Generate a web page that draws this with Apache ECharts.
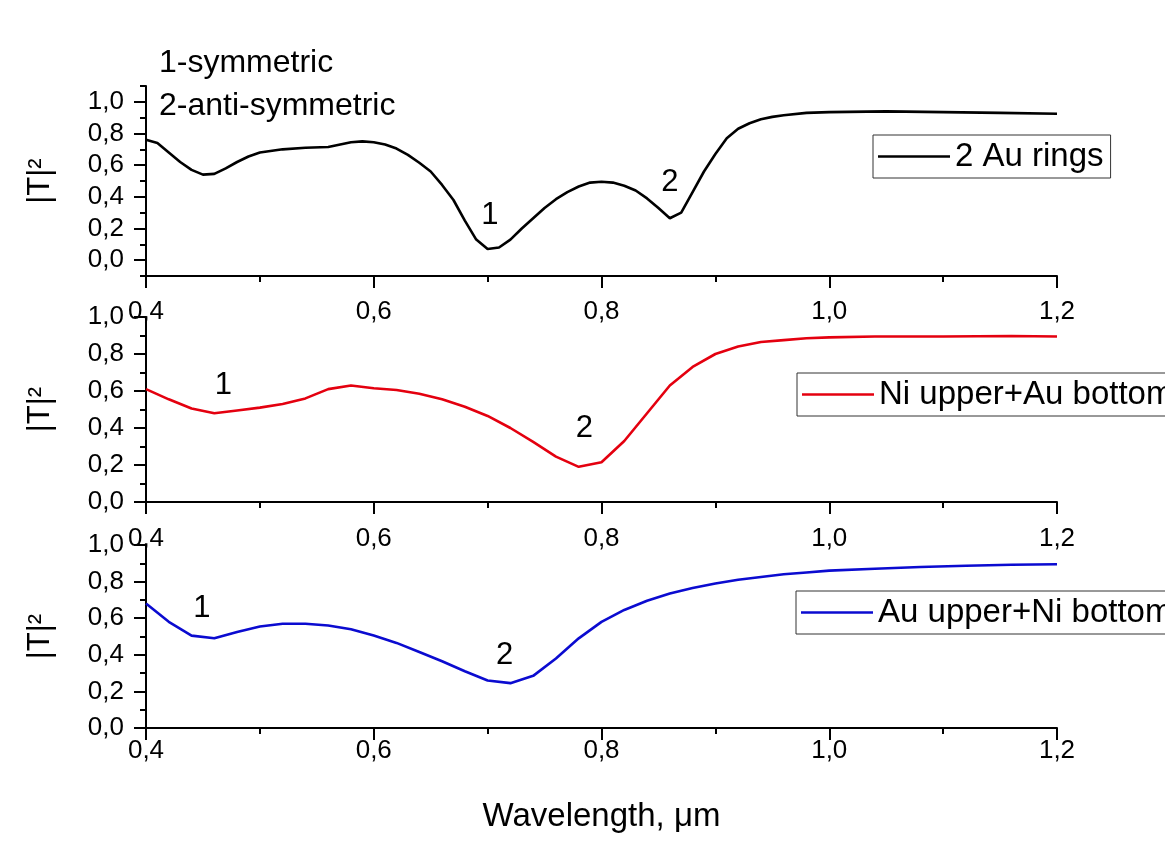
<!DOCTYPE html>
<html>
<head>
<meta charset="utf-8">
<title>Transmission spectra of ring pairs</title>
<script src="https://cdn.jsdelivr.net/npm/echarts@6/dist/echarts.min.js"></script>
<style>
  html, body { margin: 0; padding: 0; background: #ffffff; }
  #chart { width: 1165px; height: 849px; }
</style>
</head>
<body>
<div id="chart"></div>
<script>
// Wavelength (µm) and transmission |T|^2 for each ring pair
const wlAuAu = [0.40, 0.41, 0.42, 0.43, 0.44, 0.45, 0.46, 0.47, 0.48, 0.49, 0.50, 0.52, 0.54, 0.56, 0.58, 0.59,
                0.60, 0.61, 0.62, 0.63, 0.64, 0.65, 0.66, 0.67, 0.68, 0.69, 0.70, 0.71, 0.72, 0.73, 0.74, 0.75,
                0.76, 0.77, 0.78, 0.79, 0.80, 0.81, 0.82, 0.83, 0.84, 0.85, 0.86, 0.87, 0.88, 0.89, 0.90, 0.91,
                0.92, 0.93, 0.94, 0.95, 0.96, 0.98, 1.00, 1.05, 1.10, 1.15, 1.20];
const tAuAu  = [0.76, 0.74, 0.68, 0.62, 0.57, 0.54, 0.545, 0.58, 0.62, 0.655, 0.68, 0.70, 0.71, 0.715, 0.745, 0.75,
                0.745, 0.73, 0.705, 0.665, 0.615, 0.56, 0.475, 0.38, 0.25, 0.13, 0.07, 0.08, 0.13, 0.20, 0.265, 0.33,
                0.385, 0.43, 0.465, 0.49, 0.495, 0.49, 0.47, 0.44, 0.39, 0.33, 0.265, 0.30, 0.43, 0.56, 0.67, 0.77,
                0.83, 0.865, 0.89, 0.905, 0.915, 0.93, 0.935, 0.94, 0.935, 0.93, 0.925];

const wlNiAu = [0.40, 0.42, 0.44, 0.46, 0.48, 0.50, 0.52, 0.54, 0.56, 0.58, 0.60, 0.62, 0.64, 0.66, 0.68, 0.70,
                0.72, 0.74, 0.76, 0.78, 0.80, 0.82, 0.84, 0.86, 0.88, 0.90, 0.92, 0.94, 0.96, 0.98, 1.00, 1.04,
                1.10, 1.16, 1.20];
const tNiAu  = [0.61, 0.555, 0.505, 0.48, 0.495, 0.51, 0.53, 0.56, 0.61, 0.63, 0.615, 0.605, 0.585, 0.555, 0.515, 0.465,
                0.40, 0.325, 0.245, 0.19, 0.215, 0.33, 0.48, 0.63, 0.73, 0.80, 0.84, 0.865, 0.875, 0.885, 0.89, 0.895,
                0.895, 0.897, 0.895];

const wlAuNi = [0.40, 0.42, 0.44, 0.46, 0.48, 0.50, 0.52, 0.54, 0.56, 0.58, 0.60, 0.62, 0.64, 0.66, 0.68, 0.70,
                0.72, 0.74, 0.76, 0.78, 0.80, 0.82, 0.84, 0.86, 0.88, 0.90, 0.92, 0.94, 0.96, 0.98, 1.00, 1.04,
                1.08, 1.12, 1.16, 1.20];
const tAuNi  = [0.68, 0.58, 0.505, 0.49, 0.525, 0.555, 0.57, 0.57, 0.56, 0.54, 0.505, 0.465, 0.415, 0.365, 0.31, 0.26,
                0.245, 0.285, 0.38, 0.49, 0.58, 0.645, 0.695, 0.735, 0.765, 0.79, 0.81, 0.825, 0.84, 0.85, 0.86, 0.87,
                0.88, 0.887, 0.892, 0.895];

const seriesNames = ['2 Au rings', 'Ni upper+Au bottom', 'Au upper+Ni bottom'];

// Resonance markers: [wavelength, |T|^2, text] per panel
const modeMarksTop = [[0.702, 0.285, '1'], [0.860, 0.49, '2']];
const modeMarksMid = [[0.468, 0.63, '1'], [0.785, 0.395, '2']];
const modeMarksBot = [[0.449, 0.655, '1'], [0.715, 0.395, '2']];

const yMajorTop = [0, 0.2, 0.4, 0.6, 0.8, 1.0];

const FONT = 'Liberation Sans, Arial, sans-serif';
const TICK_FONT = 26;
const TEXT_FONT = 33;
const comma = v => v.toFixed(1).replace('.', ',');
const black = '#000000';

function pairs(xs, ys) { return xs.map((x, i) => [x, ys[i]]); }

function xAxisFor(gridIndex, labelMargin, withName) {
  const ax = {
    type: 'value', gridIndex: gridIndex, min: 0.4, max: 1.2, interval: 0.2,
    axisLine: { onZero: false, lineStyle: { color: black, width: 2 } },
    axisTick: { length: 12, lineStyle: { color: black, width: 2 } },
    minorTick: { show: true, splitNumber: 2, length: 6, lineStyle: { color: black, width: 2 } },
    splitLine: { show: false }, minorSplitLine: { show: false },
    axisLabel: { margin: labelMargin, fontSize: TICK_FONT, color: black, fontFamily: FONT, formatter: comma }
  };
  if (withName) {
    ax.name = 'Wavelength, \u03bcm';
    ax.nameLocation = 'middle';
    ax.nameGap = 72;
    ax.nameTextStyle = { fontSize: TEXT_FONT, color: black, fontFamily: FONT };
  }
  return ax;
}

const yName = {
  name: '|T|\u00b2', nameLocation: 'middle', nameRotate: 90, nameGap: 90,
  nameTextStyle: { fontSize: 31, color: black, fontFamily: FONT }
};

function yAxisUnit(gridIndex) {
  return Object.assign({
    type: 'value', gridIndex: gridIndex, position: 'left', min: 0, max: 1.0, interval: 0.2,
    axisLine: { show: true, onZero: false, lineStyle: { color: black, width: 2 } },
    axisTick: { show: true, length: 12, lineStyle: { color: black, width: 2 } },
    minorTick: { show: true, splitNumber: 2, length: 6, lineStyle: { color: black, width: 2 } },
    splitLine: { show: false }, minorSplitLine: { show: false },
    axisLabel: { margin: 22, fontSize: TICK_FONT, color: black, fontFamily: FONT, formatter: comma }
  }, yName);
}

function marks(list) {
  return {
    symbol: 'circle', symbolSize: 0, silent: true,
    itemStyle: { color: 'transparent' },
    label: { show: true, position: 'inside', fontSize: 31, color: black, fontFamily: FONT,
             formatter: p => p.name },
    data: list.map(m => ({ name: m[2], coord: [m[0], m[1]] }))
  };
}

function lineSeries(name, xi, yi, data, color, markList) {
  return {
    name: name, type: 'line', xAxisIndex: xi, yAxisIndex: yi,
    data: data, showSymbol: false, symbol: 'none', clip: false,
    lineStyle: { color: color, width: 2.6 }, itemStyle: { color: color },
    markPoint: marks(markList)
  };
}

function legendFor(name, left, top) {
  return {
    data: [name], left: left, top: top, orient: 'horizontal',
    icon: 'rect', itemWidth: 72, itemHeight: 2.5,
    padding: [5, 7, 5, 5], borderColor: '#333', borderWidth: 1, backgroundColor: '#fff',
    textStyle: { fontSize: TEXT_FONT, color: black, fontFamily: FONT },
    selectedMode: false
  };
}

const option = {
  backgroundColor: '#ffffff',
  animation: false,
  title: {
    text: '1-symmetric\n2-anti-symmetric', left: 154, top: 37,
    textStyle: { fontSize: 32, fontWeight: 'normal', color: black, fontFamily: FONT, lineHeight: 43 }
  },
  legend: [
    legendFor(seriesNames[0], 873, 135),
    legendFor(seriesNames[1], 797, 373),
    legendFor(seriesNames[2], 796, 591)
  ],
  grid: [
    { left: 146, right: 108, top: 86, height: 190 },
    { left: 146, right: 108, top: 317, height: 185 },
    { left: 146, right: 108, top: 545, height: 183 }
  ],
  xAxis: [
    xAxisFor(0, 23, false),
    xAxisFor(1, 24, false),
    xAxisFor(2, 10, true)
  ],
  yAxis: [
    Object.assign({
      type: 'value', gridIndex: 0, position: 'left', min: -0.1, max: 1.1,
      axisLine: { show: true, onZero: false, lineStyle: { color: black, width: 2 } },
      axisTick: { show: true, length: 12, customValues: yMajorTop, lineStyle: { color: black, width: 2 } },
      splitLine: { show: false },
      axisLabel: { margin: 22, fontSize: TICK_FONT, color: black, fontFamily: FONT, formatter: comma,
                   customValues: yMajorTop }
    }, yName),
    {
      // minor ticks of the upper panel, every 0.1 from -0.1 to 1.1
      type: 'value', gridIndex: 0, position: 'left', min: -0.1, max: 1.1, interval: 0.1,
      axisLine: { show: false, onZero: false },
      axisTick: { show: true, length: 6, lineStyle: { color: black, width: 2 } },
      axisLabel: { show: false }, splitLine: { show: false }
    },
    yAxisUnit(1),
    yAxisUnit(2)
  ],
  series: [
    lineSeries(seriesNames[0], 0, 0, pairs(wlAuAu, tAuAu), '#000000', modeMarksTop),
    lineSeries(seriesNames[1], 1, 2, pairs(wlNiAu, tNiAu), '#e4000f', modeMarksMid),
    lineSeries(seriesNames[2], 2, 3, pairs(wlAuNi, tAuNi), '#0b0bd0', modeMarksBot)
  ]
};

const chart = echarts.init(document.getElementById('chart'), null, { renderer: 'canvas' });
chart.setOption(option);
</script>
</body>
</html>
